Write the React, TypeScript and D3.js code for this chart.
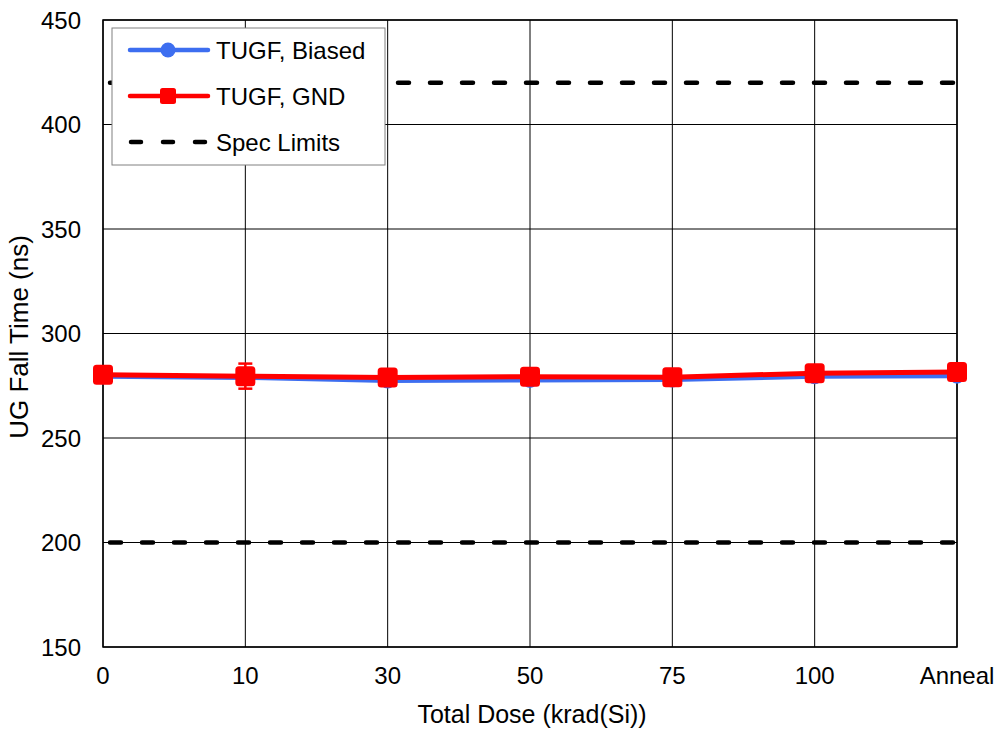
import React from "react";
import * as d3 from "d3";

const categories = ["0", "10", "30", "50", "75", "100", "Anneal"];
const biased = [279.5, 279.0, 277.5, 277.8, 278.0, 279.5, 279.8];
const biasedErr = [1.5, 1.5, 1.5, 1.5, 1.5, 1.5, 1.5];
const gnd = [280.3, 279.6, 279.0, 279.3, 279.1, 281.0, 281.6];
const gndErr = [1.5, 6.0, 1.5, 1.5, 3.5, 1.5, 1.5];
const specLimits = [200, 420];
const yTicks = [150, 200, 250, 300, 350, 400, 450];
const legendItems = ["TUGF, Biased", "TUGF, GND", "Spec Limits"];

const W = 1000, H = 729;
const L = 103, R = 957, T = 20, B = 647;
const FONT = "Liberation Sans, Arial, sans-serif";
const FS = 24;

export default function App() {
  const x = d3.scalePoint<string>().domain(categories).range([L, R]).padding(0);
  const y = d3.scaleLinear().domain([150, 450]).range([B, T]);
  const line = d3.line<number>().x((_, i) => x(categories[i])!).y((d) => y(d));

  const errBars = (vals: number[], errs: number[], color: string) =>
    vals.map((v, i) => {
      const cx = x(categories[i])!;
      return (
        <g key={i} stroke={color} strokeWidth={2.5}>
          <line x1={cx} x2={cx} y1={y(v - errs[i])} y2={y(v + errs[i])} />
          <line x1={cx - 7} x2={cx + 7} y1={y(v - errs[i])} y2={y(v - errs[i])} />
          <line x1={cx - 7} x2={cx + 7} y1={y(v + errs[i])} y2={y(v + errs[i])} />
        </g>
      );
    });

  const legX = 112, legY = 28, legW = 273, legH = 137;
  const rowY = [50, 96, 142];

  return (
    <svg width={W} height={H} style={{ position: "absolute", left: 0, top: 0, background: "#fff" }} fontFamily={FONT}>
      {/* grid */}
      {yTicks.map((t) => (
        <line key={"h" + t} x1={L} x2={R} y1={y(t)} y2={y(t)} stroke="#000" strokeWidth={1} />
      ))}
      {categories.map((c) => (
        <line key={"v" + c} x1={x(c)} x2={x(c)} y1={T} y2={B} stroke="#000" strokeWidth={1} />
      ))}
      <rect x={L} y={T} width={R - L} height={B - T} fill="none" stroke="#000" strokeWidth={1.5} />

      {/* spec limits */}
      {specLimits.map((s) => (
        <line key={"s" + s} x1={L} x2={R} y1={y(s)} y2={y(s)} stroke="#000" strokeWidth={4.5}
          strokeDasharray="11 21" strokeLinecap="round" strokeDashoffset={-7} />
      ))}

      {/* biased */}
      {errBars(biased, biasedErr, "#3d6ef0")}
      <path d={line(biased)!} fill="none" stroke="#3d6ef0" strokeWidth={5} />
      {biased.map((v, i) => (
        <circle key={"b" + i} cx={x(categories[i])} cy={y(v)} r={8} fill="#3d6ef0" />
      ))}

      {/* gnd */}
      {errBars(gnd, gndErr, "#ff0000")}
      <path d={line(gnd)!} fill="none" stroke="#ff0000" strokeWidth={5} />
      {gnd.map((v, i) => (
        <rect key={"g" + i} x={x(categories[i])! - 10} y={y(v) - 10} width={20} height={20} rx={3.5} fill="#ff0000" />
      ))}

      {/* ticks */}
      {yTicks.map((t) => (
        <text key={"yt" + t} x={81} y={y(t)} dy="0.36em" textAnchor="end" fontSize={FS} fill="#000">{t}</text>
      ))}
      {categories.map((c) => (
        <text key={"xt" + c} x={x(c)} y={684} textAnchor="middle" fontSize={FS} fill="#000">{c}</text>
      ))}
      <text x={532} y={723} textAnchor="middle" fontSize={25} fill="#000">Total Dose (krad(Si))</text>
      <text transform={`translate(28,337) rotate(-90)`} textAnchor="middle" fontSize={26} fill="#000">UG Fall Time (ns)</text>

      {/* legend */}
      <rect x={legX} y={legY} width={legW} height={legH} fill="#fff" stroke="#808080" strokeWidth={1} />
      <line x1={130} x2={208} y1={rowY[0]} y2={rowY[0]} stroke="#3d6ef0" strokeWidth={4.5} strokeLinecap="round" />
      <circle cx={168} cy={rowY[0]} r={7.5} fill="#3d6ef0" />
      <line x1={130} x2={208} y1={rowY[1]} y2={rowY[1]} stroke="#ff0000" strokeWidth={4.5} strokeLinecap="round" />
      <rect x={168 - 8} y={rowY[1] - 8} width={16} height={16} rx={2.5} fill="#ff0000" />
      <line x1={131} x2={208} y1={rowY[2]} y2={rowY[2]} stroke="#000" strokeWidth={4.5}
        strokeDasharray="10 22" strokeLinecap="round" />
      {legendItems.map((t, i) => (
        <text key={t} x={216} y={rowY[i]} dy="0.36em" fontSize={FS} fill="#000">{t}</text>
      ))}
    </svg>
  );
}
